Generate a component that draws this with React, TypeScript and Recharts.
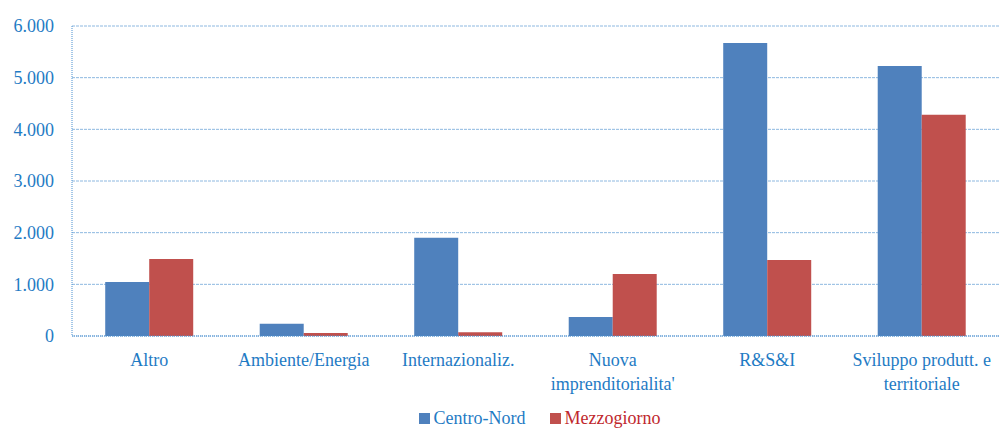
import { BarChart, Bar, XAxis, YAxis, CartesianGrid, Legend } from 'recharts';

const categories = [
  'Altro',
  'Ambiente/Energia',
  'Internazionaliz.',
  "Nuova imprenditorialita'",
  'R&S&I',
  'Sviluppo produtt. e territoriale',
];
const centroNord = [1045, 235, 1900, 370, 5670, 5225];
const mezzogiorno = [1490, 60, 75, 1200, 1470, 4280];
const yTicks = [0, 1000, 2000, 3000, 4000, 5000, 6000];

const labelLines: Record<string, string[]> = {
  "Nuova imprenditorialita'": ['Nuova', "imprenditorialita'"],
  'Sviluppo produtt. e territoriale': ['Sviluppo produtt. e', 'territoriale'],
};

const data = categories.map((name, i) => ({
  name,
  centroNord: centroNord[i],
  mezzogiorno: mezzogiorno[i],
}));

const BLUE = '#4F81BD';
const RED = '#C0504D';
const TEXT_BLUE = '#1F7BC4';
const FONT = '"Times New Roman", Liberation Serif, DejaVu Serif, serif';

const fmt = (v: number) => (v === 0 ? '0' : v.toLocaleString('de-DE'));

function CategoryTick({ x, y, payload }: any) {
  const lines = labelLines[payload.value] || [payload.value];
  return (
    <text x={x} y={y} textAnchor="middle" fill={TEXT_BLUE} fontSize={18} fontFamily={FONT}>
      {lines.map((l, i) => (
        <tspan key={i} x={x} dy={i === 0 ? 22 : 24}>
          {l}
        </tspan>
      ))}
    </text>
  );
}

function LegendContent() {
  const items = [
    { label: 'Centro-Nord', color: BLUE, text: TEXT_BLUE },
    { label: 'Mezzogiorno', color: RED, text: '#C0282D' },
  ];
  return (
    <div
      style={{
        display: 'flex',
        justifyContent: 'center',
        gap: 24,
        fontFamily: FONT,
        fontSize: 18,
        lineHeight: '20px',
        paddingTop: 8,
        paddingLeft: 80,
      }}
    >
      {items.map((it) => (
        <div key={it.label} style={{ display: 'flex', alignItems: 'center' }}>
          <span style={{ width: 11, height: 11, background: it.color, marginRight: 4, display: 'inline-block' }} />
          <span style={{ color: it.text }}>{it.label}</span>
        </div>
      ))}
    </div>
  );
}

export default function App() {
  return (
    <div style={{ position: 'absolute', left: 0, top: 0, background: '#fff' }}>
      <BarChart
        width={999}
        height={430}
        data={data}
        margin={{ top: 26, right: 0, left: 0, bottom: 0 }}
        barGap={0}
        barCategoryGap="21.5%"
      >
        <CartesianGrid vertical={false} stroke="#8DB8E0" strokeDasharray="3 1" />
        <XAxis
          dataKey="name"
          tick={<CategoryTick />}
          tickLine={false}
          axisLine={{ stroke: '#4A90D0', strokeDasharray: '1 1' }}
          height={64}
          interval={0}
        />
        <YAxis
          domain={[0, 6000]}
          ticks={yTicks}
          tickFormatter={fmt}
          width={72}
          tickLine={false}
          axisLine={{ stroke: '#4A90D0', strokeDasharray: '1 1' }}
          tick={{ fill: TEXT_BLUE, fontSize: 18, fontFamily: FONT }}
          tickMargin={12}
        />
        <Legend verticalAlign="bottom" height={30} content={<LegendContent />} />
        <Bar dataKey="centroNord" name="Centro-Nord" fill={BLUE} isAnimationActive={false} />
        <Bar dataKey="mezzogiorno" name="Mezzogiorno" fill={RED} isAnimationActive={false} />
      </BarChart>
    </div>
  );
}
